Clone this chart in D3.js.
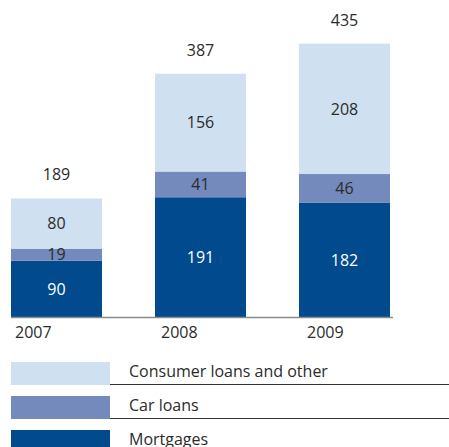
<!DOCTYPE html>
<html>
<head>
<meta charset="utf-8">
<script src="https://cdn.jsdelivr.net/npm/d3@7"></script>
<style>
  html, body { margin: 0; padding: 0; background: #fff; }
  svg { display: block; }
  text { font-family: "Open Sans", "Noto Sans", sans-serif; }
</style>
</head>
<body>
<svg id="chart" width="449" height="447"></svg>
<script>
const years = ["2007", "2008", "2009"];
const seriesNames = ["Mortgages", "Car loans", "Consumer loans and other"];
const mortgages = [90, 191, 182];
const carLoans = [19, 41, 46];
const consumerLoans = [80, 156, 208];
const totals = [189, 387, 435];
const colors = ["#004a8d", "#7489bc", "#cfe0f1"];
const labelColors = ["#ffffff", "#2b2b2b", "#2b2b2b"];
const legendOrder = ["Consumer loans and other", "Car loans", "Mortgages"];

const svg = d3.select("#chart");
const baseY = 317;

const x = d3.scaleBand().domain(years).range([11, 390]).paddingInner(0.368).paddingOuter(0);
const y = d3.scaleLinear().domain([0, 435]).range([baseY, baseY - 435 * 0.627]);

const rows = years.map((yr, i) => ({
  year: yr,
  "Mortgages": mortgages[i],
  "Car loans": carLoans[i],
  "Consumer loans and other": consumerLoans[i],
  total: totals[i]
}));
const stack = d3.stack().keys(seriesNames)(rows);
const color = d3.scaleOrdinal().domain(seriesNames).range(colors);
const labelColor = d3.scaleOrdinal().domain(seriesNames).range(labelColors);

const layers = svg.append("g").selectAll("g").data(stack).join("g")
  .attr("fill", d => color(d.key));

layers.selectAll("rect").data(d => d.map(s => Object.assign(s, {key: d.key}))).join("rect")
  .attr("x", d => x(d.data.year))
  .attr("width", x.bandwidth())
  .attr("y", d => y(d[1]))
  .attr("height", d => y(d[0]) - y(d[1]));

svg.append("g").selectAll("g").data(stack).join("g")
  .selectAll("text").data(d => d).join("text")
  .attr("x", d => x(d.data.year) + x.bandwidth() / 2)
  .attr("y", d => (y(d[0]) + y(d[1])) / 2)
  .attr("dy", "0.36em")
  .attr("text-anchor", "middle")
  .attr("font-size", 16)
  .attr("fill", d => labelColor(d.key))
  .text(d => d[1] - d[0]);

// totals
svg.append("g").selectAll("text").data(rows).join("text")
  .attr("x", d => x(d.year) + x.bandwidth() / 2)
  .attr("y", d => y(d.total) - 18)
  .attr("text-anchor", "middle")
  .attr("font-size", 16)
  .attr("fill", "#2b2b2b")
  .text(d => d.total);

// baseline
svg.append("line")
  .attr("x1", x.range()[0]).attr("x2", 393)
  .attr("y1", baseY + 0.5).attr("y2", baseY + 0.5)
  .attr("stroke", "#8a8a8a").attr("stroke-width", 1.5);

// year labels
svg.append("g").selectAll("text").data(years).join("text")
  .attr("x", d => x(d) + 4 + years.indexOf(d) * 2)
  .attr("y", 338)
  .attr("font-size", 16)
  .attr("fill", "#2b2b2b")
  .text(d => d);

// legend
const legend = svg.append("g").selectAll("g").data(legendOrder).join("g")
  .attr("transform", (d, i) => `translate(0, ${362 + i * 34})`);
legend.append("rect")
  .attr("x", 11).attr("y", 0).attr("width", 99).attr("height", 23)
  .attr("fill", d => color(d));
legend.append("text")
  .attr("x", 129).attr("y", 15)
  .attr("font-size", 16)
  .attr("fill", "#2b2b2b")
  .text(d => d);
legend.filter((d, i) => i < legendOrder.length - 1).append("line")
  .attr("x1", 110).attr("x2", 449).attr("y1", 22.5).attr("y2", 22.5)
  .attr("stroke", "#333").attr("stroke-width", 1.2);
</script>
</body>
</html>
